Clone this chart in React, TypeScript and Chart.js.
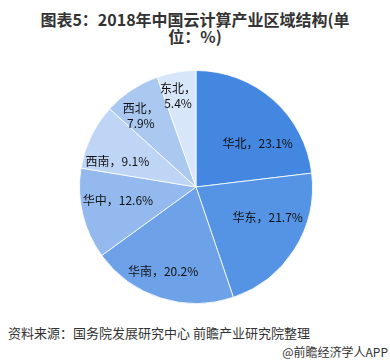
import React, { useEffect, useRef } from "react";
import { Chart, registerables } from "chart.js";

Chart.register(...registerables);

const regions = ["华北", "华东", "华南", "华中", "西南", "西北", "东北"];
const shares = [23.1, 21.7, 20.2, 12.6, 9.1, 7.9, 5.4];

const sliceColors = ["#4387E1", "#5594E4", "#6EA2E8", "#93B9EE", "#BFD5F5", "#ABC8F1", "#D8E6F9"];
// label placement styling (radius fraction, angle offset in degrees, wrap)
const labelRadius = [0.65, 0.67, 0.78, 0.68, 0.71, 0.77, 0.8];
const labelAngleOffset = [13, -9, 3.6, 3.3, -7.7, -4.3, -1.4];
const labelWrap = [false, false, false, false, false, true, true];

const FONT = '"Noto Sans CJK SC", "Microsoft YaHei", sans-serif';

const labelPlugin = {
  id: "sliceLabels",
  afterDatasetsDraw(chart: any) {
    const ctx = chart.ctx;
    const meta = chart.getDatasetMeta(0);
    ctx.save();
    ctx.font = `12px ${FONT}`;
    ctx.fillStyle = "#111";
    ctx.textAlign = "center";
    ctx.textBaseline = "middle";
    meta.data.forEach((arc: any, i: number) => {
      const { x, y, startAngle, endAngle, outerRadius } = arc.getProps(
        ["x", "y", "startAngle", "endAngle", "outerRadius"],
        true
      );
      const mid = (startAngle + endAngle) / 2 + (labelAngleOffset[i] * Math.PI) / 180;
      const r = outerRadius * labelRadius[i];
      const lx = x + Math.cos(mid) * r;
      const ly = y + Math.sin(mid) * r;
      const name = `${regions[i]}，`;
      const val = `${shares[i].toFixed(1)}%`;
      if (labelWrap[i]) {
        ctx.fillText(name, lx, ly - 7.5);
        ctx.fillText(val, lx, ly + 7.5);
      } else {
        ctx.fillText(name + val, lx, ly);
      }
    });
    ctx.restore();
  },
};

export default function App() {
  const ref = useRef<HTMLCanvasElement | null>(null);
  useEffect(() => {
    if (!ref.current) return;
    const chart = new Chart(ref.current, {
      type: "pie",
      data: {
        labels: regions,
        datasets: [
          {
            data: shares,
            backgroundColor: sliceColors,
            borderColor: "rgba(255,255,255,0.8)",
            borderWidth: 1,
          },
        ],
      },
      options: {
        responsive: false,
        animation: false,
        devicePixelRatio: 1,
        layout: { padding: 3 },
        plugins: {
          legend: { display: false },
          tooltip: { enabled: false },
          title: { display: false },
        },
      },
      plugins: [labelPlugin],
    });
    return () => chart.destroy();
  }, []);

  return (
    <div
      style={{
        position: "absolute",
        left: 0,
        top: 0,
        width: 390,
        height: 364,
        background: "#fff",
        overflow: "hidden",
        fontFamily: FONT,
      }}
    >
      <div
        style={{
          position: "absolute",
          left: 0,
          top: 11,
          width: 390,
          textAlign: "center",
          fontWeight: "bold",
          fontSize: 16,
          lineHeight: "17px",
          color: "#333",
        }}
      >
        图表5：2018年中国云计算产业区域结构(单
        <br />
        位：%)
      </div>
      <canvas
        ref={ref}
        width={240}
        height={240}
        style={{ position: "absolute", left: 76, top: 67, width: 240, height: 240 }}
      />
      <div
        style={{
          position: "absolute",
          left: 8,
          top: 323,
          fontSize: 13,
          color: "#333",
          whiteSpace: "nowrap",
        }}
      >
        资料来源：国务院发展研究中心 前瞻产业研究院整理
      </div>
      <div
        style={{
          position: "absolute",
          right: 2,
          top: 343,
          fontSize: 12,
          color: "#333",
          whiteSpace: "nowrap",
        }}
      >
        @前瞻经济学人APP
      </div>
    </div>
  );
}
